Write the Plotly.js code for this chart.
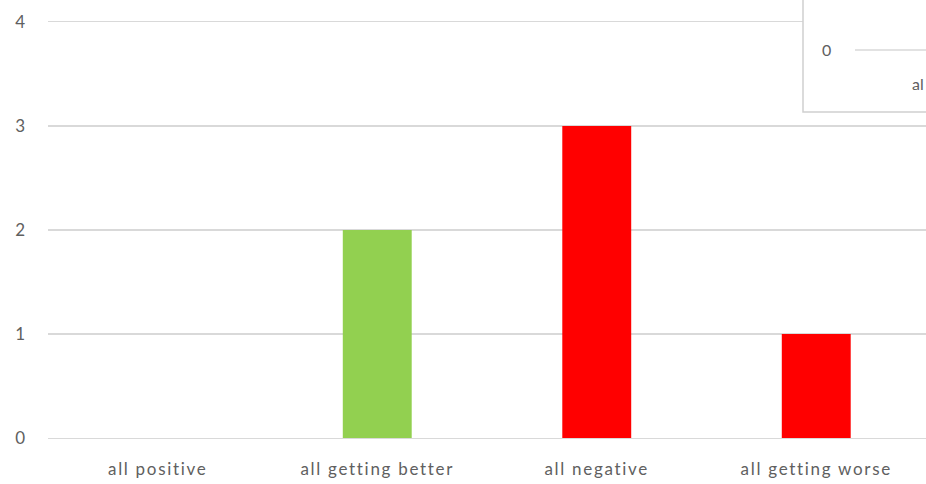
<!DOCTYPE html>
<html>
<head>
<meta charset="utf-8">
<script src="https://cdn.plot.ly/plotly-3.0.1.min.js"></script>
<style>
html,body{margin:0;padding:0;background:#fff;}
#chart{width:926px;height:484px;}
#chart .xtick text{letter-spacing:1.7px;}
</style>
</head>
<body>
<div id="chart"></div>
<script>
const categories = ["all positive", "all getting better", "all negative", "all getting worse"];
const values = [0, 2, 3, 1];
const barColors = ["#92d050", "#92d050", "#ff0000", "#ff0000"];
const yTicks = [0, 1, 2, 3, 4];
const insetTickLabel = "0";
const insetCatLabel = "al";

const trace = {
  type: "bar",
  x: categories,
  y: values,
  marker: {color: barColors},
  width: 0.314,
  hoverinfo: "none"
};

const layout = {
  width: 926, height: 484,
  margin: {l: 48, r: 0, t: 22, b: 46},
  paper_bgcolor: "#ffffff", plot_bgcolor: "#ffffff",
  showlegend: false,
  font: {family: "Lato, 'Open Sans', sans-serif", color: "#606060", size: 16},
  xaxis: {
    type: "category",
    range: [-0.5, 3.5],
    showgrid: false, zeroline: false,
    showline: true, mirror: true, linecolor: "#d9d9d9", linewidth: 1.3,
    ticks: "", ticklabelstandoff: 15,
    tickfont: {size: 17, color: "#606060"},
    fixedrange: true
  },
  yaxis: {
    range: [0, 4],
    tickvals: yTicks,
    ticktext: yTicks.map(String),
    showgrid: true, gridcolor: "#d9d9d9", gridwidth: 1.3,
    zeroline: false, showline: false,
    ticks: "", ticklabelstandoff: 22,
    tickfont: {size: 17, color: "#606060"},
    fixedrange: true
  },
  shapes: [
    {type: "rect", xref: "paper", yref: "paper", x0: (803-48)/878, x1: 1.01, y0: (484-46-112)/416, y1: 1.1,
     fillcolor: "#ffffff", line: {color: "#d0d0d0", width: 1.5}, layer: "above"},
    {type: "line", xref: "paper", yref: "paper", x0: (855-48)/878, x1: 1.01, y0: (438-50)/416, y1: (438-50)/416,
     line: {color: "#d9d9d9", width: 1.3}, layer: "above"}
  ],
  annotations: [
    {xref: "paper", yref: "paper", x: (826-48)/878, y: (438-50)/416, text: insetTickLabel, showarrow: false,
     xanchor: "center", yanchor: "middle", font: {size: 16, color: "#606060"}},
    {xref: "paper", yref: "paper", x: (910-48)/878, y: (438-83)/416, text: insetCatLabel, showarrow: false,
     xanchor: "left", yanchor: "middle", font: {size: 16, color: "#606060"}}
  ]
};

Plotly.newPlot("chart", [trace], layout, {displayModeBar: false, staticPlot: true});
</script>
</body>
</html>
